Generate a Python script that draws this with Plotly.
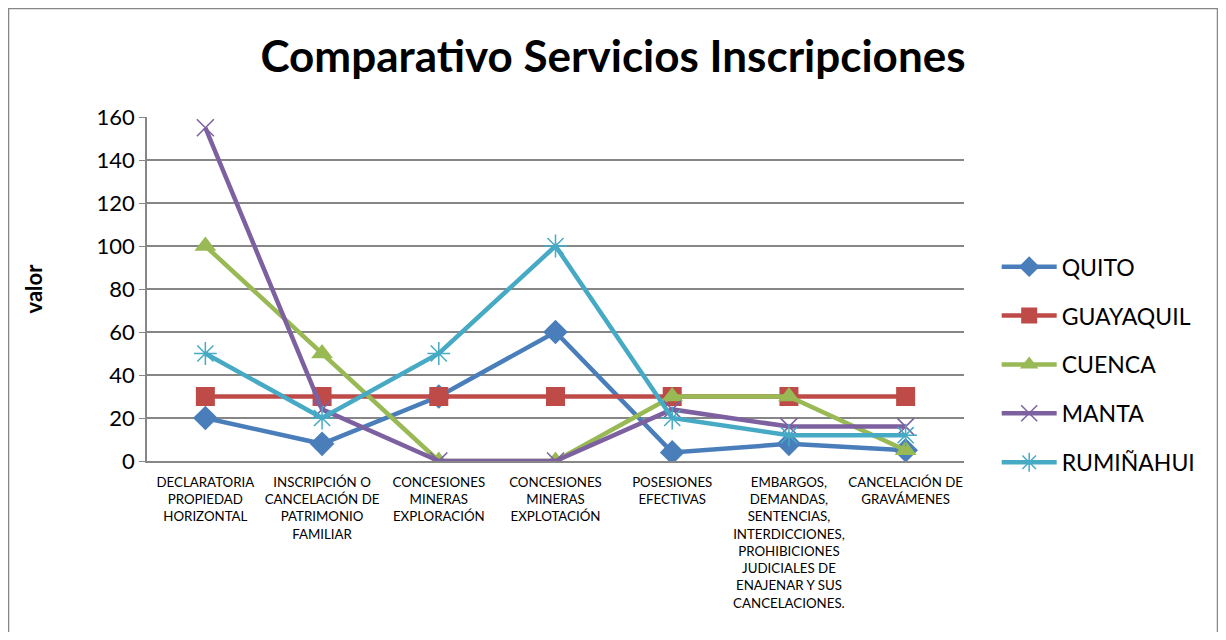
"""Comparativo Servicios Inscripciones - line chart."""

import plotly.graph_objects as go

categories = [
    "DECLARATORIA<br>PROPIEDAD<br>HORIZONTAL",
    "INSCRIPCIÓN O<br>CANCELACIÓN DE<br>PATRIMONIO<br>FAMILIAR",
    "CONCESIONES<br>MINERAS<br>EXPLORACIÓN",
    "CONCESIONES<br>MINERAS<br>EXPLOTACIÓN",
    "POSESIONES<br>EFECTIVAS",
    "EMBARGOS,<br>DEMANDAS,<br>SENTENCIAS,<br>INTERDICCIONES,<br>PROHIBICIONES<br>JUDICIALES DE<br>ENAJENAR Y SUS<br>CANCELACIONES.",
    "CANCELACIÓN DE<br>GRAVÁMENES",
]

quito = [20, 8, 30, 60, 4, 8, 5]
guayaquil = [30, 30, 30, 30, 30, 30, 30]
cuenca = [100, 50, 0, 0, 30, 30, 5]
manta = [155, 24, 0, 0, 24, 16, 16]
ruminahui = [50, 20, 50, 100, 20, 12, 12]

series = [
    ("QUITO", quito, "#4A7EBB", "diamond", 19),
    ("GUAYAQUIL", guayaquil, "#BE4B48", "square", 19),
    ("CUENCA", cuenca, "#98B954", "triangle-up", 19),
    ("MANTA", manta, "#7D60A0", "x-thin", 17),
    ("RUMIÑAHUI", ruminahui, "#46AAC5", "asterisk", 19),
]

fig = go.Figure()
for name, values, color, symbol, size in series:
    thin = symbol in ("x-thin", "asterisk")
    fig.add_trace(
        go.Scatter(
            x=categories,
            y=values,
            name=name,
            legendgroup=name,
            mode="lines+markers",
            line=dict(color=color, width=4.5),
            marker=dict(
                symbol=symbol,
                size=size,
                color=color,
                line=dict(color=color, width=1.5 if thin else 0),
            ),
        )
    )

# the page body adds an 8px offset, so the figure is a bit smaller
# (no scrollbars) and the margins are shifted to compensate
fig.update_layout(
    width=1210,
    height=624,
    paper_bgcolor="white",
    plot_bgcolor="white",
    margin=dict(l=139, r=254, t=109, b=171),
    font=dict(family="Lato, Open Sans, sans-serif", color="black"),
    title=dict(
        text="<b>Comparativo Servicios Inscripciones</b>",
        x=0.5,
        xanchor="center",
        y=0.9215,
        yanchor="middle",
        font=dict(size=44, family="Lato, Open Sans, sans-serif"),
    ),
    xaxis=dict(
        showgrid=False,
        showline=True,
        linecolor="#868686",
        linewidth=1.5,
        ticks="",
        tickangle=0,
        tickfont=dict(size=13.3),
        ticklabelstandoff=8,
        range=[-0.5, 6.5],
    ),
    yaxis=dict(
        range=[0, 160],
        dtick=20,
        showgrid=True,
        gridcolor="#868686",
        gridwidth=1.5,
        showline=True,
        linecolor="#868686",
        linewidth=1.5,
        zeroline=False,
        ticks="outside",
        ticklen=6,
        tickcolor="#868686",
        tickfont=dict(size=22),
        title=dict(text="<b>valor</b>", font=dict(size=22), standoff=48),
    ),
    legend=dict(
        x=1.04,
        xanchor="left",
        y=0.28,
        yanchor="middle",
        font=dict(size=23),
        tracegroupgap=16,
        itemwidth=55,
    ),
    shapes=[
        dict(
            type="rect",
            xref="paper",
            yref="paper",
            x0=-0.1695,
            x1=1.3103,
            y0=-0.6,
            y1=1.3154,
            line=dict(color="#868686", width=1.5),
            layer="below",
        )
    ],
)

fig.write_html("out.html")
